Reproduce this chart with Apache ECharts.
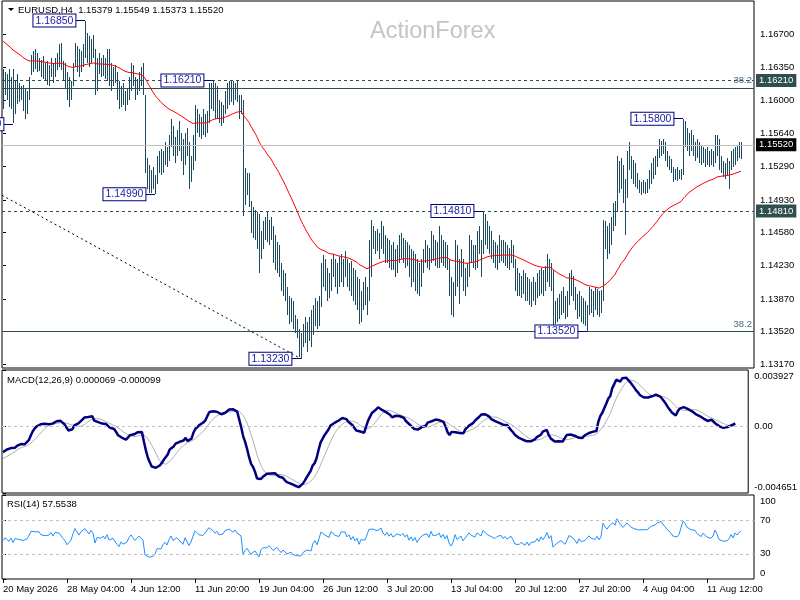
<!DOCTYPE html>
<html><head><meta charset="utf-8">
<script src="https://cdn.jsdelivr.net/npm/echarts@6/dist/echarts.min.js"></script>
<style>html,body{margin:0;padding:0;background:#fff}#c{width:800px;height:600px}</style>
</head><body><div id="c"></div>
<script>
// ---- data (EURUSD H4 bars) ----
const highs = [
1.1633,1.1630,1.1628,1.1633,1.1625,1.1633,1.1620,1.1628,1.1618,1.1615,
1.1616,1.1612,1.1610,1.1625,1.1648,1.1652,1.1655,1.1650,1.1645,1.1643,
1.1647,1.1640,1.1642,1.1638,1.1645,1.1640,1.1645,1.1650,1.1660,1.1661,
1.1642,1.1640,1.1630,1.1625,1.1620,1.1640,1.1661,1.1658,1.1655,1.1652,
1.1660,1.1685,1.1672,1.1668,1.1665,1.1670,1.1655,1.1645,1.1650,1.1645,
1.1648,1.1645,1.1655,1.1655,1.1640,1.1635,1.1638,1.1630,1.1620,1.1615,
1.1618,1.1610,1.1612,1.1625,1.1640,1.1638,1.1625,1.1622,1.1630,1.1635,
1.1640,1.1605,1.1538,1.1530,1.1525,1.1528,1.1520,1.1540,1.1545,1.1548,
1.1545,1.1555,1.1550,1.1562,1.1580,1.1572,1.1560,1.1568,1.1578,1.1565,
1.1558,1.1565,1.1570,1.1555,1.1540,1.1562,1.1595,1.1590,1.1585,1.1582,
1.1590,1.1585,1.1588,1.1618,1.1618,1.1621,1.1618,1.1615,1.1600,1.1598,
1.1595,1.1610,1.1618,1.1620,1.1620,1.1620,1.1618,1.1620,1.1605,1.1605,
1.1600,1.1527,1.1522,1.1522,1.1492,1.1485,1.1482,1.1480,1.1478,1.1460,
1.1470,1.1475,1.1480,1.1472,1.1475,1.1465,1.1455,1.1448,1.1445,1.1425,
1.1418,1.1415,1.1400,1.1390,1.1388,1.1385,1.1370,1.1365,1.1355,1.1350,
1.1360,1.1368,1.1362,1.1368,1.1375,1.1380,1.1388,1.1385,1.1390,1.1425,
1.1434,1.1430,1.1420,1.1415,1.1430,1.1435,1.1430,1.1425,1.1432,1.1435,
1.1430,1.1438,1.1430,1.1425,1.1428,1.1420,1.1418,1.1410,1.1408,1.1395,
1.1405,1.1410,1.1400,1.1450,1.1472,1.1465,1.1460,1.1462,1.1458,1.1470,
1.1465,1.1455,1.1452,1.1450,1.1445,1.1448,1.1440,1.1445,1.1455,1.1458,
1.1452,1.1450,1.1448,1.1445,1.1440,1.1438,1.1435,1.1430,1.1425,1.1430,
1.1440,1.1450,1.1445,1.1442,1.1460,1.1455,1.1450,1.1448,1.1465,1.1455,
1.1450,1.1448,1.1445,1.1430,1.1410,1.1405,1.1450,1.1445,1.1430,1.1440,
1.1430,1.1420,1.1425,1.1455,1.1450,1.1445,1.1445,1.1460,1.1465,1.1450,
1.1481,1.1478,1.1470,1.1465,1.1460,1.1450,1.1448,1.1445,1.1455,1.1450,
1.1450,1.1448,1.1445,1.1442,1.1450,1.1445,1.1430,1.1420,1.1415,1.1412,
1.1418,1.1415,1.1410,1.1408,1.1405,1.1410,1.1405,1.1415,1.1418,1.1420,
1.1418,1.1422,1.1435,1.1430,1.1425,1.1418,1.1385,1.1388,1.1392,1.1395,
1.1400,1.1390,1.1395,1.1415,1.1418,1.1412,1.1400,1.1392,1.1395,1.1390,
1.1388,1.1385,1.1380,1.1400,1.1398,1.1395,1.1400,1.1398,1.1395,1.1396,
1.1472,1.1470,1.1465,1.1468,1.1475,1.1490,1.1492,1.1540,1.1535,1.1538,
1.1530,1.1515,1.1545,1.1555,1.1540,1.1536,1.1532,1.1522,1.1514,1.1512,
1.1514,1.1512,1.1515,1.1525,1.1532,1.1538,1.1540,1.1548,1.1558,1.1556,
1.1558,1.1555,1.1545,1.1540,1.1537,1.1528,1.1526,1.1528,1.1525,1.1526,
1.1580,1.1578,1.1570,1.1565,1.1568,1.1562,1.1555,1.1558,1.1555,1.1552,
1.1550,1.1548,1.1550,1.1545,1.1548,1.1545,1.1562,1.1562,1.1558,1.1540,
1.1535,1.1532,1.1538,1.1535,1.1545,1.1548,1.1550,1.1552,1.1555,1.15549
];
const lows = [
1.1590,1.1605,1.1600,1.1592,1.1590,1.1575,1.1585,1.1596,1.1598,1.1600,
1.1588,1.1580,1.1585,1.1600,1.1627,1.1630,1.1633,1.1630,1.1631,1.1625,
1.1622,1.1620,1.1616,1.1615,1.1625,1.1618,1.1625,1.1632,1.1635,1.1632,
1.1620,1.1612,1.1600,1.1593,1.1600,1.1615,1.1635,1.1630,1.1625,1.1630,
1.1635,1.1645,1.1640,1.1635,1.1640,1.1645,1.1605,1.1610,1.1628,1.1625,
1.1626,1.1622,1.1620,1.1615,1.1610,1.1615,1.1618,1.1600,1.1590,1.1592,
1.1595,1.1588,1.1595,1.1600,1.1610,1.1615,1.1600,1.1605,1.1610,1.1615,
1.1605,1.1522,1.1505,1.1500,1.1500,1.1505,1.1499,1.1510,1.1522,1.1520,
1.1522,1.1530,1.1528,1.1535,1.1550,1.1540,1.1532,1.1540,1.1545,1.1535,
1.1520,1.1530,1.1540,1.1505,1.1512,1.1525,1.1535,1.1565,1.1560,1.1558,
1.1562,1.1560,1.1565,1.1575,1.1590,1.1588,1.1580,1.1580,1.1575,1.1572,
1.1575,1.1585,1.1590,1.1595,1.1598,1.1595,1.1600,1.1598,1.1580,1.1585,
1.1476,1.1488,1.1498,1.1485,1.1458,1.1452,1.1450,1.1440,1.1415,1.1430,
1.1440,1.1450,1.1448,1.1445,1.1450,1.1425,1.1418,1.1415,1.1410,1.1395,
1.1390,1.1385,1.1370,1.1360,1.1362,1.1355,1.1350,1.1345,1.1325,1.1323,
1.1335,1.1340,1.1330,1.1342,1.1335,1.1348,1.1358,1.1355,1.1358,1.1378,
1.1400,1.1395,1.1385,1.1388,1.1395,1.1410,1.1400,1.1392,1.1400,1.1405,
1.1400,1.1410,1.1400,1.1395,1.1390,1.1385,1.1380,1.1375,1.1360,1.1362,
1.1375,1.1380,1.1370,1.1385,1.1410,1.1440,1.1435,1.1438,1.1430,1.1440,
1.1435,1.1425,1.1425,1.1420,1.1418,1.1418,1.1410,1.1415,1.1425,1.1430,
1.1425,1.1420,1.1422,1.1410,1.1400,1.1405,1.1395,1.1392,1.1390,1.1400,
1.1415,1.1425,1.1420,1.1418,1.1425,1.1428,1.1422,1.1420,1.1420,1.1425,
1.1422,1.1420,1.1418,1.1390,1.1370,1.1368,1.1390,1.1400,1.1382,1.1410,
1.1395,1.1390,1.1400,1.1410,1.1425,1.1420,1.1418,1.1420,1.1435,1.1410,
1.1435,1.1445,1.1440,1.1435,1.1430,1.1425,1.1420,1.1418,1.1425,1.1428,
1.1425,1.1422,1.1420,1.1418,1.1425,1.1420,1.1395,1.1390,1.1390,1.1388,
1.1392,1.1385,1.1385,1.1380,1.1378,1.1385,1.1380,1.1388,1.1390,1.1392,
1.1390,1.1395,1.1405,1.1400,1.1395,1.1358,1.1360,1.1362,1.1365,1.1370,
1.1372,1.1365,1.1368,1.1380,1.1390,1.1385,1.1375,1.1365,1.1368,1.1362,
1.1360,1.1358,1.1352,1.1370,1.1372,1.1368,1.1375,1.1370,1.1368,1.1372,
1.1385,1.1440,1.1430,1.1435,1.1445,1.1460,1.1465,1.1480,1.1500,1.1505,
1.1490,1.1455,1.1495,1.1525,1.1515,1.1510,1.1507,1.1505,1.1500,1.1498,
1.1500,1.1499,1.1500,1.1505,1.1510,1.1515,1.1520,1.1528,1.1538,1.1540,
1.1542,1.1535,1.1528,1.1525,1.1522,1.1512,1.1514,1.1513,1.1515,1.1514,
1.1520,1.1550,1.1545,1.1540,1.1545,1.1540,1.1535,1.1538,1.1532,1.1530,
1.1532,1.1528,1.1530,1.1528,1.1530,1.1528,1.1532,1.1540,1.1525,1.1522,
1.1518,1.1515,1.1520,1.1505,1.1525,1.1528,1.1530,1.1535,1.1538,1.15373
];
const closes = [
1.1605,1.1620,1.1610,1.1600,1.1615,1.1590,1.1610,1.1615,1.1605,1.1608,
1.1600,1.1595,1.1605,1.1620,1.1640,1.1645,1.1640,1.1638,1.1640,1.1630,
1.1635,1.1628,1.1625,1.1630,1.1638,1.1628,1.1640,1.1645,1.1640,1.1638,
1.1625,1.1618,1.1605,1.1600,1.1615,1.1635,1.1655,1.1645,1.1635,1.1648,
1.1655,1.1660,1.1655,1.1645,1.1658,1.1650,1.1615,1.1635,1.1640,1.1632,
1.1640,1.1630,1.1645,1.1625,1.1620,1.1630,1.1625,1.1605,1.1595,1.1610,
1.1600,1.1595,1.1605,1.1620,1.1630,1.1620,1.1610,1.1615,1.1625,1.1618,
1.1610,1.1530,1.1515,1.1510,1.1515,1.1508,1.1515,1.1532,1.1538,1.1525,
1.1540,1.1548,1.1535,1.1555,1.1570,1.1550,1.1545,1.1560,1.1555,1.1540,
1.1530,1.1555,1.1562,1.1515,1.1530,1.1558,1.1590,1.1580,1.1570,1.1575,
1.1568,1.1580,1.1585,1.1610,1.1615,1.1600,1.1590,1.1600,1.1585,1.1580,
1.1590,1.1605,1.1600,1.1615,1.1618,1.1605,1.1615,1.1605,1.1600,1.1595,
1.1490,1.1505,1.1515,1.1490,1.1465,1.1460,1.1475,1.1450,1.1420,1.1450,
1.1460,1.1468,1.1455,1.1465,1.1460,1.1430,1.1425,1.1440,1.1418,1.1400,
1.1410,1.1395,1.1378,1.1370,1.1380,1.1360,1.1355,1.1350,1.1335,1.1340,
1.1350,1.1345,1.1355,1.1360,1.1345,1.1370,1.1380,1.1360,1.1385,1.1418,
1.1425,1.1405,1.1410,1.1395,1.1425,1.1428,1.1410,1.1418,1.1405,1.1428,
1.1420,1.1430,1.1408,1.1418,1.1395,1.1410,1.1388,1.1400,1.1365,1.1388,
1.1395,1.1385,1.1390,1.1445,1.1455,1.1450,1.1455,1.1445,1.1450,1.1460,
1.1440,1.1430,1.1445,1.1428,1.1440,1.1425,1.1420,1.1440,1.1450,1.1435,
1.1445,1.1430,1.1440,1.1415,1.1430,1.1410,1.1425,1.1400,1.1415,1.1420,
1.1435,1.1430,1.1440,1.1425,1.1455,1.1435,1.1445,1.1440,1.1450,1.1430,
1.1445,1.1425,1.1440,1.1400,1.1380,1.1395,1.1440,1.1410,1.1420,1.1430,
1.1400,1.1415,1.1410,1.1448,1.1435,1.1440,1.1425,1.1450,1.1455,1.1435,
1.1470,1.1465,1.1450,1.1455,1.1440,1.1445,1.1430,1.1440,1.1435,1.1445,
1.1430,1.1440,1.1428,1.1435,1.1440,1.1425,1.1405,1.1410,1.1400,1.1408,
1.1400,1.1395,1.1405,1.1390,1.1400,1.1395,1.1400,1.1410,1.1400,1.1415,
1.1405,1.1415,1.1430,1.1410,1.1420,1.1365,1.1370,1.1380,1.1372,1.1388,
1.1380,1.1370,1.1385,1.1405,1.1410,1.1395,1.1385,1.1370,1.1388,1.1375,
1.1370,1.1378,1.1372,1.1395,1.1385,1.1390,1.1380,1.1392,1.1378,1.1390,
1.1465,1.1450,1.1440,1.1460,1.1470,1.1485,1.1475,1.1530,1.1515,1.1530,
1.1500,1.1495,1.1540,1.1535,1.1520,1.1515,1.1512,1.1510,1.1508,1.1505,
1.1510,1.1504,1.1512,1.1520,1.1528,1.1530,1.1535,1.1545,1.1550,1.1552,
1.1550,1.1540,1.1535,1.1530,1.1525,1.1518,1.1520,1.1516,1.1522,1.1520,
1.1570,1.1565,1.1555,1.1558,1.1550,1.1545,1.1550,1.1542,1.1548,1.1535,
1.1545,1.1540,1.1535,1.1540,1.1532,1.1538,1.1555,1.1545,1.1530,1.1528,
1.1525,1.1528,1.1525,1.1530,1.1540,1.1532,1.1545,1.1540,1.15379,1.1552
];

const emaPeriod = 55, emaSeed = 1.1665;
const macdFastSeed = 1.1622, macdSlowSeed = 1.1640, macdSignalSeed = -0.0023;
const rsiGainSeed = 0.0008, rsiLossSeed = 0.00095;

// axis ticks
const priceTicks = [1.1317,1.1352,1.1387,1.1423,1.1458,1.1493,1.1529,1.1564,1.1600,1.1635,1.1670];
const macdTicks = [-0.004651, 0, 0.003927];
const rsiTicks = [0, 30, 70, 100];
const timeTickIdx = [0,32,64,96,128,160,192,224,256,288,320,352];
const timeTickText = ['20 May 2026','28 May 04:00','4 Jun 12:00','11 Jun 20:00','19 Jun 04:00','26 Jun 12:00','3 Jul 20:00','13 Jul 04:00','20 Jul 12:00','27 Jul 20:00','4 Aug 04:00','11 Aug 12:00'];

// annotations (swing highs/lows)
const annText  = ['1.16850','1.16210','1.14990','1.14810','1.13230','1.13520','1.15800','1.15740'];
const annPrice = [1.1685,1.1621,1.1499,1.1481,1.1323,1.1352,1.1580,1.1574];
const annBar   = [41,105,76,240,149,292,340,5];

// horizontal levels
const resLevel = [1.1621, 1.1481];     // dashed S/R with axis tag
const fibLevel = [1.1613, 1.1352];     // 38.2 retracements
const lastPrice = 1.1552;
const trendStart = [-0.5, 1.1498], trendEnd = [149, 1.1323];

// ---- indicators ----
const ema = []; { let e = emaSeed; const k = 2/(emaPeriod+1);
  closes.forEach((c,i)=>{ e += k*(c-e); ema.push([i,e]); }); }
const macd = [], sig = []; { let f = macdFastSeed, s = macdSlowSeed; const w = new Array(9).fill(macdSignalSeed);
  closes.forEach((c,i)=>{ f += (2/13)*(c-f); s += (2/27)*(c-s); const m = f-s; w.shift(); w.push(m);
    macd.push([i,m]); sig.push([i, w.reduce((a,b)=>a+b,0)/9]); }); }
const rsi = []; { let ag = rsiGainSeed, al = rsiLossSeed;
  closes.forEach((c,i)=>{ if(i>0){ const d = c-closes[i-1]; ag = (ag*13+Math.max(d,0))/14; al = (al*13+Math.max(-d,0))/14; }
    rsi.push([i, 100-100/(1+ag/al)]); }); }
const bars = closes.map((c,i)=>[i, lows[i], highs[i]]);

const FONT = 'Liberation Sans';
const FS = 9.5;
const NBARS = 376;
const chart = echarts.init(document.getElementById('c'), null, {renderer:'canvas'});

const slate = '#2f4f4f';
const annLines = annText.map((t,k)=>[
  {coord:[annBar[k]-4.8, annPrice[k]], lineStyle:{color:'#000080', width:1, type:'solid'},
   label:{show:true, position:'start', distance:0, formatter:t, color:'#1c1c9c', fontFamily:FONT, fontSize:10.5,
     backgroundColor:'#fff', borderColor:'#000080', borderWidth:1, padding:[1,2,0,2]}},
  {coord:[annBar[k], annPrice[k]]}
]);
const levelLines = [
  {yAxis:resLevel[0], lineStyle:{color:slate, type:[3,3], width:1},
   label:{show:true, position:'end', distance:2, formatter:'1.16210', color:'#fff', backgroundColor:slate, padding:[2,3,1,3], fontFamily:FONT, fontSize:FS}},
  {yAxis:resLevel[1], lineStyle:{color:slate, type:[3,3], width:1},
   label:{show:true, position:'end', distance:2, formatter:'1.14810', color:'#fff', backgroundColor:slate, padding:[2,3,1,3], fontFamily:FONT, fontSize:FS}},
  {yAxis:fibLevel[0], lineStyle:{color:slate, type:'solid', width:1},
   label:{show:true, position:'insideEndTop', distance:2, formatter:'38.2', color:'#4a6782', fontFamily:FONT, fontSize:FS}},
  {yAxis:fibLevel[1], lineStyle:{color:slate, type:'solid', width:1},
   label:{show:true, position:'insideEndTop', distance:2, formatter:'38.2', color:'#4a6782', fontFamily:FONT, fontSize:FS}},
  {yAxis:lastPrice, lineStyle:{color:'#c0c0c0', type:'solid', width:1},
   label:{show:true, position:'end', distance:2, formatter:'1.15520', color:'#fff', backgroundColor:'#000', padding:[2,3,1,3], fontFamily:FONT, fontSize:FS}},
  [{coord:trendStart, lineStyle:{color:'#000', type:[2,3], width:1}, label:{show:false}}, {coord:trendEnd}]
];

function edgeLabel(){
  return {color:'#000', fontFamily:FONT, fontSize:FS, margin:6,
    rich:{t:{padding:[12,0,0,0], fontFamily:FONT, fontSize:FS, color:'#000'}, b:{padding:[0,0,12,0], fontFamily:FONT, fontSize:FS, color:'#000'}}};
}
const xAxes = [0,1,2].map(g=>({type:'value', gridIndex:g, min:-0.5, max:NBARS-0.5,
  axisLine:{show:false}, splitLine:{show:false},
  axisTick:{show:g===2, customValues:timeTickIdx, length:4, lineStyle:{color:'#000'}},
  axisLabel:{show:g===2, customValues:timeTickIdx, align:'left', margin:5, color:'#000', fontFamily:FONT, fontSize:FS,
    formatter:v=>{const k=timeTickIdx.indexOf(Math.round(v)); return k>=0?timeTickText[k]:'';}}}));

const macdLab = edgeLabel();
macdLab.customValues = macdTicks;
macdLab.formatter = v => v>0.001 ? '{t|'+v.toFixed(6)+'}' : (v<-0.001 ? '{b|'+v.toFixed(6)+'}' : '0.00');
const rsiLab = edgeLabel();
rsiLab.customValues = rsiTicks;
rsiLab.formatter = v => v>=100 ? '{t|100}' : (v<=0 ? '{b|0}' : String(v));

const option = {
  animation:false,
  backgroundColor:'#fff',
  grid:[
    {left:2, top:1, width:752, height:367, show:true, borderColor:'#000', borderWidth:1, backgroundColor:'#fff'},
    {left:2, top:370, width:752, height:123, show:true, borderColor:'#000', borderWidth:1, backgroundColor:'#fff'},
    {left:2, top:495, width:752, height:84, show:true, borderColor:'#000', borderWidth:1, backgroundColor:'#fff'}
  ],
  xAxis: xAxes,
  yAxis:[
    {type:'value', gridIndex:0, position:'right', min:1.1313, max:1.1706, splitLine:{show:false}, axisLine:{show:false},
     axisTick:{show:true, customValues:priceTicks, length:3, lineStyle:{color:'#000'}},
     axisLabel:{customValues:priceTicks, formatter:v=>v.toFixed(5), margin:6, color:'#000', fontFamily:FONT, fontSize:FS}},
    {type:'value', gridIndex:1, position:'right', min:-0.004651, max:0.003927, splitLine:{show:false}, axisLine:{show:false},
     axisTick:{show:true, customValues:macdTicks, length:3, lineStyle:{color:'#000'}}, axisLabel:macdLab},
    {type:'value', gridIndex:2, position:'right', min:0, max:100, splitLine:{show:false}, axisLine:{show:false},
     axisTick:{show:true, customValues:rsiTicks, length:3, lineStyle:{color:'#000'}}, axisLabel:rsiLab}
  ],
  graphic:[
    {type:'polygon', z:100, shape:{points:[[8,8],[14,8],[11,11]]}, style:{fill:'#000'}},
    {type:'text', z:100, x:18, y:10, style:{text:'EURUSD,H4  1.15379 1.15549 1.15373 1.15520', font:FS+'px "'+FONT+'"', fill:'#000', verticalAlign:'middle'}},
    {type:'text', z:100, x:370, y:32, style:{text:'ActionForex', font:'23.5px "'+FONT+'"', fill:'#c4c4c4', verticalAlign:'middle'}},
    {type:'text', z:100, x:7, y:380, style:{text:'MACD(12,26,9) 0.000069 -0.000099', font:FS+'px "'+FONT+'"', fill:'#000', verticalAlign:'middle'}},
    {type:'text', z:100, x:7, y:504, style:{text:'RSI(14) 57.5538', font:FS+'px "'+FONT+'"', fill:'#000', verticalAlign:'middle'}}
  ],
  series:[
    {type:'line', name:'levels', xAxisIndex:0, yAxisIndex:0, data:[], silent:true,
     markLine:{silent:true, precision:6, symbol:['none','none'], animation:false, data: levelLines.concat(annLines)}},
    {type:'custom', xAxisIndex:0, yAxisIndex:0, data:bars, silent:true, encode:{x:0, y:[1,2]},
     renderItem:(params, api)=>{
       const lo = api.coord([api.value(0), api.value(1)]);
       const hi = api.coord([api.value(0), api.value(2)]);
       const x = Math.round(lo[0]) + 0.5;
       return {type:'line', shape:{x1:x, y1:Math.round(lo[1]), x2:x, y2:Math.round(hi[1])}, style:{stroke:'#1b4a5e', lineWidth:1}};
     }},
    {type:'line', xAxisIndex:0, yAxisIndex:0, data:ema, symbol:'none', lineStyle:{color:'#ff0000', width:1}, silent:true},
    {type:'line', xAxisIndex:1, yAxisIndex:1, data:sig, symbol:'none', lineStyle:{color:'#b0b0b0', width:1}, silent:true,
     markLine:{silent:true, precision:6, symbol:['none','none'], label:{show:false}, data:[{yAxis:0}], lineStyle:{color:'#c0c0c0', type:[3,3], width:1}}},
    {type:'line', xAxisIndex:1, yAxisIndex:1, data:macd, symbol:'none', lineStyle:{color:'#000080', width:2.5}, silent:true},
    {type:'line', xAxisIndex:2, yAxisIndex:2, data:rsi, symbol:'none', lineStyle:{color:'#1e90ff', width:1}, silent:true,
     markLine:{silent:true, precision:6, symbol:['none','none'], label:{show:false}, data:[{yAxis:70},{yAxis:30}], lineStyle:{color:'#c0c0c0', type:[3,3], width:1}}}
  ]
};
chart.setOption(option);
</script>
</body></html>
